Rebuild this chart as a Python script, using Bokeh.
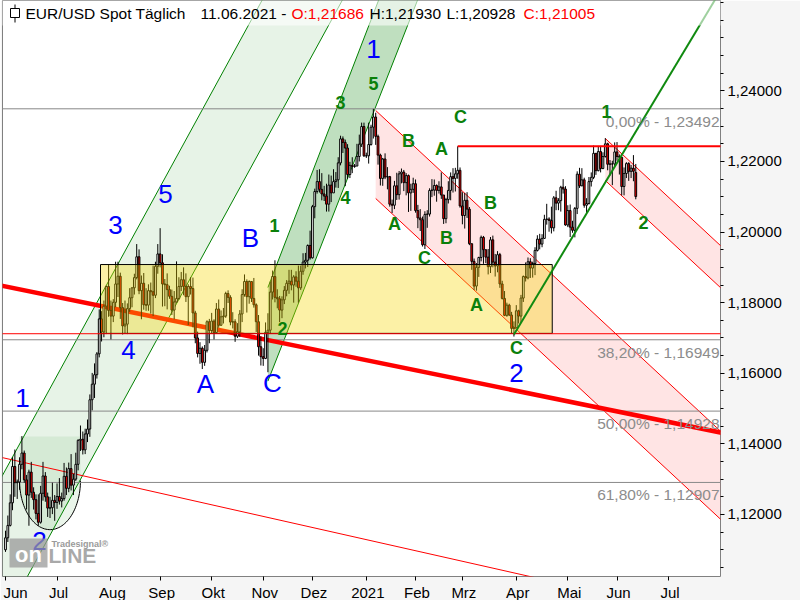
import numpy as np
import pandas as pd
from bokeh.plotting import figure
from bokeh.models import FixedTicker, CustomJSTickFormatter, Label, Range1d
from bokeh.core.properties import value
from bokeh.embed import file_html
from bokeh.resources import INLINE

# ---------------- data (EUR/USD daily) ----------------
START = "2020-06-01"
END = "2021-06-11"

close = [
    # Jun 2020
    1.1134, 1.1169, 1.1233, 1.1336, 1.1290, 1.1292, 1.1342, 1.1374, 1.1298, 1.1255, 1.1320,
    1.1263, 1.1242, 1.1203, 1.1178, 1.1260, 1.1309, 1.1250, 1.1218, 1.1219, 1.1240, 1.1234,
    # Jul 2020
    1.1251, 1.1238, 1.1245, 1.1308, 1.1274, 1.1330, 1.1283, 1.1300, 1.1342, 1.1410, 1.1413, 1.1383,
    1.1428, 1.1442, 1.1525, 1.1569, 1.1596, 1.1655, 1.1754, 1.1717, 1.1790, 1.1846, 1.1778,
    # Aug 2020
    1.1762, 1.1801, 1.1853, 1.1875, 1.1786, 1.1734, 1.1739, 1.1783, 1.1814, 1.1842, 1.1871,
    1.1930, 1.1834, 1.1855, 1.1794, 1.1793, 1.1834, 1.1831, 1.1821, 1.1903, 1.1938,
    # Sep 2020
    1.1913, 1.1853, 1.1851, 1.1837, 1.1818, 1.1779, 1.1802, 1.1812, 1.1846, 1.1865, 1.1846,
    1.1817, 1.1846, 1.1840, 1.1771, 1.1700, 1.1656, 1.1671, 1.1631, 1.1665, 1.1746, 1.1721,
    # Oct 2020
    1.1748, 1.1715, 1.1782, 1.1736, 1.1760, 1.1762, 1.1826, 1.1815, 1.1745, 1.1746, 1.1705,
    1.1717, 1.1768, 1.1823, 1.1860, 1.1817, 1.1860, 1.1812, 1.1794, 1.1746, 1.1675, 1.1647,
    # Nov 2020
    1.1642, 1.1716, 1.1722, 1.1830, 1.1874, 1.1815, 1.1811, 1.1779, 1.1808, 1.1835, 1.1855,
    1.1861, 1.1850, 1.1873, 1.1861, 1.1842, 1.1889, 1.1915, 1.1920, 1.1962, 1.1927,
    # Dec 2020
    1.2072, 1.2115, 1.2143, 1.2121, 1.2108, 1.2102, 1.2079, 1.2133, 1.2111, 1.2143, 1.2148, 1.2196,
    1.2264, 1.2254, 1.2238, 1.2163, 1.2189, 1.2186, 1.2187, 1.2214, 1.2249, 1.2299, 1.2216,
    # Jan 2021
    1.2216, 1.2248, 1.2297, 1.2326, 1.2271, 1.2218, 1.2152, 1.2207, 1.2156, 1.2157, 1.2079,
    1.2076, 1.2131, 1.2106, 1.2165, 1.2170, 1.2140, 1.2160, 1.2111, 1.2121, 1.2137,
    # Feb 2021
    1.2061, 1.2040, 1.2035, 1.1964, 1.2050, 1.2051, 1.2118, 1.2119, 1.2132, 1.2118,
    1.2128, 1.2105, 1.2038, 1.2092, 1.2118, 1.2157, 1.2152, 1.2165, 1.2175, 1.2074,
    # Mar 2021
    1.2047, 1.2090, 1.2065, 1.1967, 1.1917, 1.1847, 1.1900, 1.1928, 1.1985, 1.1950, 1.1929, 1.1902,
    1.1978, 1.1915, 1.1904, 1.1936, 1.1853, 1.1812, 1.1764, 1.1793, 1.1765, 1.1727, 1.1729,
    # Apr 2021
    1.1777, 1.1762, 1.1813, 1.1874, 1.1870, 1.1916, 1.1898, 1.1911, 1.1948, 1.1980, 1.1966,
    1.1982, 1.2036, 1.2037, 1.2033, 1.2012, 1.2097, 1.2082, 1.2089, 1.2127, 1.2122, 1.2020,
    # May 2021
    1.2061, 1.2014, 1.2005, 1.2067, 1.2164, 1.2131, 1.2148, 1.2076, 1.2081, 1.2143, 1.2155,
    1.2223, 1.2174, 1.2228, 1.2180, 1.2214, 1.2250, 1.2192, 1.2193, 1.2193, 1.2227,
    # Jun 2021
    1.2214, 1.2212, 1.2129, 1.2166, 1.2194, 1.2172, 1.2181, 1.2172, 1.21005,
]

high = [
    1.1154, 1.1197, 1.1257, 1.1362, 1.1384, 1.1299, 1.1362, 1.1422, 1.1381, 1.1312, 1.1327,
    1.1349, 1.1277, 1.1257, 1.1257, 1.1281, 1.1349, 1.1320, 1.1262, 1.1250, 1.1290, 1.1255,
    1.1288, 1.1303, 1.1262, 1.1346, 1.1333, 1.1347, 1.1371, 1.1315, 1.1375, 1.1413, 1.1452, 1.1435,
    1.1443, 1.1469, 1.1540, 1.1601, 1.1628, 1.1660, 1.1781, 1.1776, 1.1806, 1.1848, 1.1908,
    1.1806, 1.1810, 1.1916, 1.1916, 1.1885, 1.1799, 1.1806, 1.1798, 1.1841, 1.1844, 1.1882,
    1.1966, 1.1951, 1.1877, 1.1884, 1.1841, 1.1852, 1.1857, 1.1905, 1.1916, 1.1966,
    1.2011, 1.1937, 1.1867, 1.1883, 1.1848, 1.1837, 1.1833, 1.1917, 1.1872, 1.1887, 1.1900,
    1.1883, 1.1852, 1.1872, 1.1871, 1.1777, 1.1718, 1.1688, 1.1676, 1.1680, 1.1750, 1.1754,
    1.1771, 1.1753, 1.1799, 1.1809, 1.1778, 1.1785, 1.1831, 1.1835, 1.1821, 1.1773, 1.1753,
    1.1742, 1.1779, 1.1838, 1.1880, 1.1866, 1.1863, 1.1860, 1.1870, 1.1798, 1.1765, 1.1705,
    1.1671, 1.1744, 1.1770, 1.1860, 1.1891, 1.1920, 1.1838, 1.1819, 1.1818, 1.1847, 1.1864,
    1.1893, 1.1893, 1.1878, 1.1889, 1.1905, 1.1905, 1.1940, 1.1941, 1.1965, 1.2004,
    1.2077, 1.2123, 1.2176, 1.2178, 1.2167, 1.2131, 1.2137, 1.2163, 1.2160, 1.2178, 1.2170, 1.2212,
    1.2273, 1.2271, 1.2262, 1.2249, 1.2199, 1.2212, 1.2193, 1.2250, 1.2276, 1.2310, 1.2310,
    1.2225, 1.2310, 1.2304, 1.2349, 1.2338, 1.2276, 1.2222, 1.2210, 1.2223, 1.2184, 1.2159,
    1.2092, 1.2145, 1.2168, 1.2173, 1.2180, 1.2176, 1.2167, 1.2163, 1.2137, 1.2154,
    1.2149, 1.2077, 1.2065, 1.2044, 1.2059, 1.2062, 1.2124, 1.2150, 1.2149, 1.2135,
    1.2144, 1.2169, 1.2105, 1.2097, 1.2144, 1.2169, 1.2181, 1.2182, 1.2243, 1.2183,
    1.2113, 1.2111, 1.2113, 1.2071, 1.1961, 1.1925, 1.1912, 1.1930, 1.1990, 1.1989, 1.1944, 1.1952,
    1.1986, 1.1990, 1.1938, 1.1946, 1.1941, 1.1862, 1.1833, 1.1800, 1.1797, 1.1774, 1.1747,
    1.1793, 1.1780, 1.1822, 1.1877, 1.1914, 1.1928, 1.1926, 1.1916, 1.1957, 1.1991, 1.1995,
    1.1994, 1.2049, 1.2080, 1.2042, 1.2072, 1.2102, 1.2117, 1.2096, 1.2131, 1.2150, 1.2130,
    1.2076, 1.2078, 1.2032, 1.2071, 1.2172, 1.2182, 1.2181, 1.2154, 1.2096, 1.2156, 1.2169,
    1.2245, 1.2224, 1.2244, 1.2241, 1.2226, 1.2266, 1.2253, 1.2204, 1.2202, 1.2254,
    1.2255, 1.2220, 1.2207, 1.2183, 1.2198, 1.2198, 1.2190, 1.2218, 1.21930,
]

low = [
    1.1094, 1.1122, 1.1166, 1.1212, 1.1250, 1.1244, 1.1270, 1.1328, 1.1290, 1.1214, 1.1168,
    1.1247, 1.1214, 1.1186, 1.1168, 1.1174, 1.1239, 1.1236, 1.1193, 1.1190, 1.1201, 1.1182,
    1.1216, 1.1228, 1.1220, 1.1239, 1.1255, 1.1263, 1.1268, 1.1255, 1.1295, 1.1325, 1.1380, 1.1370,
    1.1371, 1.1405, 1.1420, 1.1495, 1.1530, 1.1585, 1.1645, 1.1690, 1.1702, 1.1711, 1.1760,
    1.1696, 1.1745, 1.1787, 1.1816, 1.1754, 1.1710, 1.1712, 1.1711, 1.1774, 1.1787, 1.1823,
    1.1866, 1.1824, 1.1753, 1.1780, 1.1777, 1.1777, 1.1769, 1.1762, 1.1813, 1.1882,
    1.1900, 1.1789, 1.1790, 1.1781, 1.1811, 1.1765, 1.1753, 1.1800, 1.1808, 1.1833, 1.1821,
    1.1802, 1.1737, 1.1823, 1.1730, 1.1685, 1.1645, 1.1627, 1.1612, 1.1621, 1.1659, 1.1685,
    1.1714, 1.1696, 1.1713, 1.1729, 1.1735, 1.1741, 1.1757, 1.1799, 1.1736, 1.1727, 1.1689,
    1.1700, 1.1703, 1.1745, 1.1817, 1.1772, 1.1797, 1.1802, 1.1786, 1.1717, 1.1650, 1.1622,
    1.1621, 1.1640, 1.1603, 1.1712, 1.1809, 1.1801, 1.1784, 1.1745, 1.1756, 1.1796, 1.1818,
    1.1825, 1.1835, 1.1800, 1.1845, 1.1800, 1.1836, 1.1879, 1.1897, 1.1901, 1.1922,
    1.1925, 1.2039, 1.2109, 1.2112, 1.2090, 1.2088, 1.2058, 1.2058, 1.2085, 1.2116, 1.2126, 1.2125,
    1.2189, 1.2224, 1.2130, 1.2151, 1.2153, 1.2167, 1.2182, 1.2197, 1.2200, 1.2241, 1.2213,
    1.2210, 1.2194, 1.2245, 1.2265, 1.2247, 1.2191, 1.2132, 1.2131, 1.2150, 1.2121, 1.2072,
    1.2054, 1.2065, 1.2091, 1.2092, 1.2138, 1.2116, 1.2104, 1.2057, 1.2060, 1.2111,
    1.2055, 1.2011, 1.2003, 1.1959, 1.1952, 1.2012, 1.2044, 1.2099, 1.2103, 1.2086,
    1.2109, 1.2094, 1.2023, 1.2025, 1.2081, 1.2090, 1.2112, 1.2115, 1.2151, 1.2069,
    1.2022, 1.2010, 1.2040, 1.1963, 1.1893, 1.1836, 1.1834, 1.1873, 1.1917, 1.1910, 1.1912, 1.1880,
    1.1884, 1.1900, 1.1874, 1.1886, 1.1842, 1.1809, 1.1762, 1.1760, 1.1762, 1.1713, 1.1704,
    1.1737, 1.1741, 1.1743, 1.1802, 1.1860, 1.1866, 1.1870, 1.1871, 1.1878, 1.1945, 1.1951,
    1.1957, 1.1986, 1.2021, 1.2001, 1.1996, 1.2002, 1.2062, 1.2062, 1.2058, 1.2109, 1.2018,
    1.2014, 1.1986, 1.1998, 1.1985, 1.2051, 1.2125, 1.2130, 1.2069, 1.2052, 1.2078, 1.2129,
    1.2150, 1.2162, 1.2172, 1.2169, 1.2178, 1.2211, 1.2175, 1.2160, 1.2133, 1.2185,
    1.2202, 1.2163, 1.2104, 1.2104, 1.2153, 1.2145, 1.2153, 1.2144, 1.20928,
]

FIRST_OPEN = 1.1100
LAST_OPEN = 1.21686

month_starts = ["2020-06-01", "2020-07-01", "2020-08-03", "2020-09-01", "2020-10-01",
                "2020-11-02", "2020-12-01", "2021-01-01", "2021-02-01", "2021-03-01",
                "2021-04-01", "2021-05-03", "2021-06-01", "2021-07-01"]
month_names = ["Jun", "Jul", "Aug", "Sep", "Okt", "Nov", "Dez", "2021", "Feb", "Mrz",
               "Apr", "Mai", "Jun", "Jul"]

y_major = [1.12, 1.14, 1.16, 1.18, 1.20, 1.22, 1.24]

fib_levels = [1.23492, 1.16949, 1.14928, 1.12907]
fib_names = ["0,00%", "38,20%", "50,00%", "61,80%"]

# drawings: (date, price) anchors
trend_thick = [("2020-06-01", 1.1846), ("2021-06-01", 1.1492)]
trend_thin = [("2020-06-01", 1.1359), ("2021-04-01", 1.1033)]
chan_a_top = [("2020-06-01", 1.13264), ("2020-11-02", 1.26626)]
chan_a_bot = [("2020-06-01", 1.09106), ("2020-11-02", 1.22468)]
chan_b_top = [("2020-11-04", 1.18430), ("2021-01-01", 1.25665)]
chan_b_bot = [("2020-11-04", 1.15778), ("2021-01-01", 1.22876)]
chan_c_top = [("2021-01-07", 1.23444), ("2021-06-01", 1.17086)]
chan_c_bot = [("2021-01-07", 1.20951), ("2021-06-01", 1.14593)]
chan_d_top = [("2021-05-25", 1.22651), ("2021-07-30", 1.19688)]
chan_d_bot = [("2021-05-25", 1.21461), ("2021-07-30", 1.18498)]
up_trend = [("2021-03-31", 1.1710), ("2021-06-01", 1.2196)]
resistance = ("2021-02-25", 1.2243)
support = 1.1712
range_box = ("2020-07-28", "2021-04-22", 1.1908, 1.1713)
cup = ("2020-06-09", "2020-07-15", 1.1421, 1.1296, 1.1157)

blue_waves = ["1", "2", "3", "4", "5", "A", "B", "C", "1", "2"]
green_waves = ["1", "2", "3", "5", "4", "B", "A", "C", "A", "B", "C", "B", "A", "C", "1", "2"]

# ---------------- helpers ----------------
PX_DAY, X0_PX = 2.343, 5.0
PX_UNIT, YREF_PX, YREF_P = 3530.0, 108.3, 1.23492


def X(px):
    return (px - X0_PX) / PX_DAY


def Y(py):
    return YREF_P - (py - YREF_PX) / PX_UNIT


def di(d):
    return float(np.busday_count(START, d))


def line_fn(anchors):
    (d0, p0), (d1, p1) = anchors
    i0, i1 = di(d0), di(d1)
    s = (p1 - p0) / (i1 - i0)
    return lambda i: p0 + s * (np.asarray(i, dtype=float) - i0)


dates = pd.bdate_range(START, END)
n = len(dates)
idx = np.arange(n, dtype=float)
c = np.array(close)
o = np.array([FIRST_OPEN] + close[:-1])
o[-1] = LAST_OPEN
h = np.maximum(np.array(high), np.maximum(o, c))
lo = np.minimum(np.array(low), np.minimum(o, c))

xs, xe = X(2), X(720)
p = figure(frame_width=718, frame_height=576,
           x_range=Range1d(xs, xe), y_range=Range1d(Y(576), Y(0)),
           y_axis_location="right", output_backend="svg", toolbar_location=None,
           min_border_left=2, min_border_top=0, min_border_right=80, min_border_bottom=24,
           background_fill_color="white", border_fill_color="#f5f5f5",
           outline_line_color="#808080", outline_line_width=1)
p.grid.visible = False

GREEN_FILL = "#60b060"
GREEN_LINE = "#008000"
PINK_FILL = "#ff8080"
RED = "#ff0000"

# --- up channel A (light green)
ta, ba = line_fn(chan_a_top), line_fn(chan_a_bot)
ii = np.array([-20.0, 160.0])
p.patch(np.r_[ii, ii[::-1]], np.r_[ta(ii), ba(ii[::-1])], fill_color=GREEN_FILL,
        fill_alpha=0.15, line_color=None)
# cup shape
cl, cr = di(cup[0]), di(cup[1])
cx, ca = (cl + cr) / 2, (cr - cl) / 2
t = np.linspace(0, np.pi, 60)
arc_x = cx + ca * np.cos(t)
arc_y = cup[3] - (cup[3] - cup[4]) * np.sin(t)
p.patch(np.r_[cl, cr, arc_x], np.r_[cup[2], cup[2], arc_y], fill_color=GREEN_FILL,
        fill_alpha=0.13, line_color=None)
p.line(arc_x, arc_y, line_color="black", line_width=1)
# --- up channel B (dark green)
tb, bb = line_fn(chan_b_top), line_fn(chan_b_bot)
ib = np.array([di(chan_b_top[0][0]), 190.0])
p.patch(np.r_[ib, ib[::-1]], np.r_[tb(ib), bb(ib[::-1])], fill_color=GREEN_FILL,
        fill_alpha=0.40, line_color=None)
# --- down channels (pink)
tc, bc = line_fn(chan_c_top), line_fn(chan_c_bot)
ic = np.array([di(chan_c_top[0][0]), 320.0])
p.patch(np.r_[ic, ic[::-1]], np.r_[tc(ic), bc(ic[::-1])], fill_color=PINK_FILL,
        fill_alpha=0.21, line_color=None)
td, bd = line_fn(chan_d_top), line_fn(chan_d_bot)
idd = np.array([di(chan_d_top[0][0]), 320.0])
p.patch(np.r_[idd, idd[::-1]], np.r_[td(idd), bd(idd[::-1])], fill_color=PINK_FILL,
        fill_alpha=0.21, line_color=None)

# channel lines
for f, rng in [(ta, ii), (ba, ii), (tb, ib), (bb, ib)]:
    p.line(rng, f(rng), line_color=GREEN_LINE, line_width=1)
for f, rng in [(tc, ic), (bc, ic), (td, idd), (bd, idd)]:
    p.line(rng, f(rng), line_color=RED, line_width=1)

# fibonacci levels
p.segment(x0=[xs - 5] * 4, x1=[xe + 5] * 4, y0=fib_levels, y1=fib_levels,
          line_color="#888888", line_width=1)

# trend lines
tt = line_fn(trend_thick)
it = np.array([-10.0, 320.0])
p.line(it, tt(it), line_color=RED, line_width=4.5)
tn = line_fn(trend_thin)
p.line(it, tn(it), line_color=RED, line_width=1)

# candles
colors = np.where(c >= o, "white", RED)
p.segment(idx, h, idx, lo, line_color="black", line_width=1)
p.vbar(x=idx, width=0.75, top=np.maximum(o, c), bottom=np.minimum(o, c),
       fill_color=list(colors), line_color="black", line_width=1)

# range box (yellow, over candles)
p.quad(left=[di(range_box[0]) - 0.45], right=[di(range_box[1]) + 0.35],
       top=[range_box[2]], bottom=[range_box[3]], fill_color="#f5d700", fill_alpha=0.35,
       line_color="black", line_width=1)

# support / resistance / up trend
p.segment(x0=[xs - 5], x1=[xe + 5], y0=[support], y1=[support], line_color=RED, line_width=1)
p.segment(x0=[di(resistance[0])], x1=[xe + 5], y0=[resistance[1]], y1=[resistance[1]],
          line_color=RED, line_width=2)
ut = line_fn(up_trend)
iu = np.array([di(up_trend[0][0]), 320.0])
p.line(iu, ut(iu), line_color="#108a10", line_width=2)

# fib labels
fib_txt = [f"{nm} - {lv:.5f}".replace(".", ",") for nm, lv in zip(fib_names, fib_levels)]
p.text(x=[X(719)] * 4, y=[lv - 4.0 / PX_UNIT for lv in fib_levels], text=fib_txt,
       text_color="#8c8c8c", text_font=value("Liberation Sans"), text_font_size=value("15.5px"),
       text_align="right", text_baseline="top")

# wave labels
blue_pos = [(22, 397), (39, 540), (115, 224), (128, 349), (165, 193), (205, 383),
            (250, 237), (272, 382), (373, 48), (516, 372)]
green_pos = [(274, 225), (282, 328), (340, 102), (373, 83), (345, 197), (408, 140),
             (441, 148), (460, 116), (394, 223), (446, 237), (424, 257), (490, 202),
             (476, 304), (516, 347), (606, 111), (643, 222)]
p.text(x=[X(a) for a, b in blue_pos], y=[Y(b) for a, b in blue_pos], text=blue_waves,
       text_color="#0000ff", text_font=value("Liberation Sans"), text_font_size=value("26px"),
       text_align="center", text_baseline="middle")
p.text(x=[X(a) for a, b in green_pos], y=[Y(b) for a, b in green_pos], text=green_waves,
       text_color="#0a800a", text_font=value("Liberation Sans"), text_font_size=value("18px"),
       text_font_style="bold", text_align="center", text_baseline="middle")

# logo
p.quad(left=[X(9)], right=[X(47)], top=[Y(538)], bottom=[Y(567)], fill_color="#9a9a9a",
       fill_alpha=0.75, line_color=None)
p.text(x=[X(28)], y=[Y(554)], text=["on"], text_color="white", text_font=value("Liberation Sans"),
       text_font_size=value("22px"), text_font_style="bold", text_align="center",
       text_baseline="middle")
p.text(x=[X(48)], y=[Y(555)], text=["LINE"], text_color="#9a9a9a", text_alpha=0.85,
       text_font=value("Liberation Sans"), text_font_size=value("21px"), text_font_style="bold",
       text_align="left", text_baseline="middle")
p.text(x=[X(51)], y=[Y(543)], text=["Tradesignal®"], text_color="#9a9a9a",
       text_font=value("Liberation Sans"), text_font_size=value("9px"), text_font_style="bold",
       text_align="left", text_baseline="middle")

# title band + icon
p.quad(left=[xs - 5], right=[xe + 5], top=[Y(-5)], bottom=[Y(25)], fill_color="white",
       fill_alpha=0.6, line_color=None)
p.segment(x0=[X(14.5)], x1=[X(14.5)], y0=[Y(4)], y1=[Y(22)], line_color="black", line_width=1)
p.quad(left=[X(10)], right=[X(19)], top=[Y(8)], bottom=[Y(17)], fill_color="white",
       line_color="black", line_width=1)

last_date = dates[-1].strftime("%d.%m.%Y")
fmt = lambda v: f"{v:.5f}".replace(".", ",")
title_parts = [("EUR/USD Spot Täglich", 25, "black"), (f"{last_date} -", 200, "black"),
               (f"O:{fmt(LAST_OPEN)}", 291, RED), (f"H:{fmt(high[-1])}", 369, "black"),
               (f"L:{fmt(low[-1])}", 446, "black"), (f"C:{fmt(close[-1])}", 523, RED)]
for txt, px, col in title_parts:
    p.add_layout(Label(x=X(px), y=Y(13), text=txt, text_color=col, text_font="Liberation Sans",
                       text_font_size="15.5px", text_baseline="middle", text_align="left"))
p.add_layout(Label(x=X(727), y=Y(5), text="$", text_color="black", text_font="Liberation Sans",
                   text_font_size="15px", text_baseline="top", text_align="left"))

# axes
tick_pos = [di(d) for d in month_starts]
p.xaxis.ticker = FixedTicker(ticks=tick_pos, minor_ticks=[])
p.xaxis.formatter = CustomJSTickFormatter(args=dict(tks=tick_pos, labs=month_names), code="""
    for (let k = 0; k < tks.length; k++) { if (Math.abs(tks[k] - tick) < 0.05) return '\u2009' + labs[k]; }
    return '';
""")
p.yaxis.ticker = FixedTicker(ticks=y_major, minor_ticks=list(np.round(np.arange(1.100, 1.266, 0.005), 3)))
p.yaxis.formatter = CustomJSTickFormatter(code="return tick.toFixed(5).replace('.', ',');")
for ax in (p.xaxis[0], p.yaxis[0]):
    ax.axis_line_color = None
    ax.major_tick_in = 0
    ax.major_tick_out = 4
    ax.minor_tick_in = 0
    ax.minor_tick_out = 3
    ax.major_tick_line_color = "black"
    ax.minor_tick_line_color = "black"
    ax.major_label_text_font = "Liberation Sans"
    ax.major_label_text_font_size = "15px"
    ax.major_label_text_color = "black"
    ax.major_label_standoff = 3
p.xaxis.major_label_text_align = "left"

open("out.html", "w").write(file_html(p, INLINE))
